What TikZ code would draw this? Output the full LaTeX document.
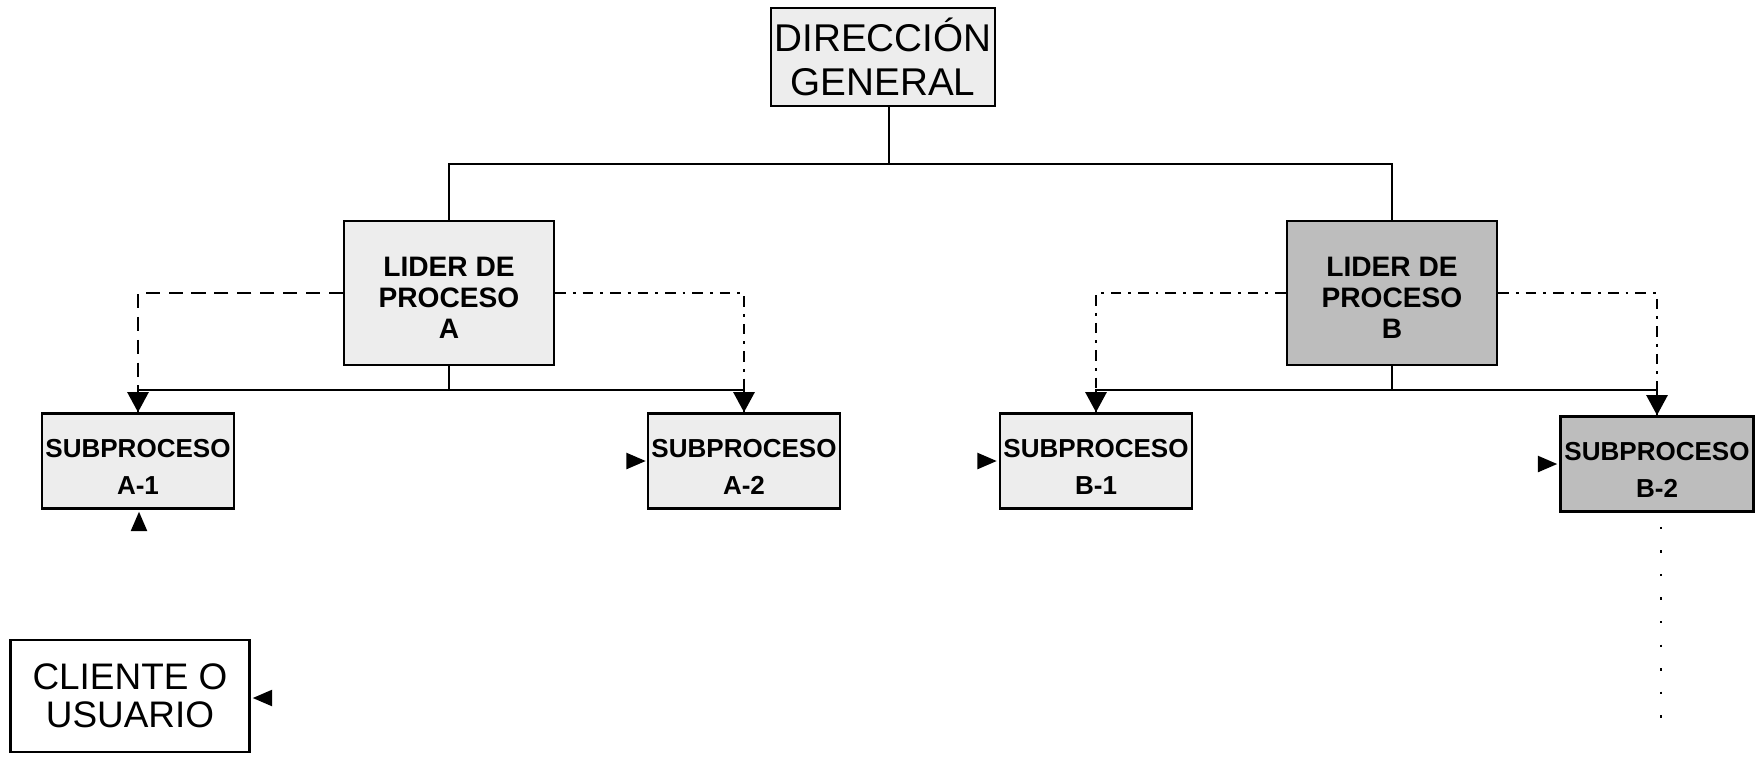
\documentclass[tikz,border=0pt]{standalone}
\usepackage{fontspec}
\setmainfont{Liberation Sans}
\usetikzlibrary{arrows.meta,calc}
\definecolor{boxlight}{gray}{0.93}
\definecolor{boxdark}{gray}{0.74}
% espacio extra sobre la primera linea del texto
\newcommand{\toplift}[1]{\rule{0pt}{#1}}

\begin{document}
\begin{tikzpicture}[x=0.01cm, y=-0.01cm,
  box/.style={rectangle, draw=black, line width=0.7pt, align=center, inner sep=1pt},
  lider/.style={box, minimum width=2.1cm, minimum height=1.44cm,
    font=\fontsize{8}{8.8}\selectfont\bfseries},
  subbox/.style={box, minimum width=1.9cm, minimum height=0.95cm,
    font=\fontsize{7.4}{10.5}\selectfont\bfseries},
  tree/.style={line width=0.6pt},
  link/.style={tree, -{Triangle[length=5.7pt, width=6pt]}},
  tip/.style={line width=0.5pt, -{Triangle[length=5.5pt, width=4.6pt]}},
  support/.style={line width=0.5pt, dash pattern=on 4pt off 2.5pt},
  supportdot/.style={line width=0.5pt, dash pattern=on 3pt off 2pt on 0.8pt off 2pt},
  tail/.style={line width=0.6pt, dash pattern=on 0.7pt off 6pt}
]
\fill[white] (0,0) rectangle (1763,756);
\useasboundingbox (0,0) rectangle (1763,756);

% jerarquia
\node[box, fill=boxlight, minimum width=2.24cm, minimum height=0.98cm,
  font=\fontsize{11}{12.5}\selectfont] (dg) at (883,57) {DIRECCIÓN\\GENERAL};
\node[lider, fill=boxlight] (liderA) at (449,293) {\toplift{8.2pt}LIDER DE\\PROCESO\\A};
\node[lider, fill=boxdark] (liderB) at (1392,293) {\toplift{8.2pt}LIDER DE\\PROCESO\\B};

\node[subbox, fill=boxlight] (subA1) at (138,461) {\toplift{8.7pt}SUBPROCESO\\A-1};
\node[subbox, fill=boxlight] (subA2) at (744,461) {\toplift{8.7pt}SUBPROCESO\\A-2};
\node[subbox, fill=boxlight] (subB1) at (1096,461) {\toplift{8.7pt}SUBPROCESO\\B-1};
\node[subbox, fill=boxdark, minimum width=1.93cm] (subB2) at (1657,464) {\toplift{8.7pt}SUBPROCESO\\B-2};

\node[box, fill=white, minimum width=2.39cm, minimum height=1.12cm,
  font=\fontsize{10.5}{10.7}\selectfont] (cliente) at (130,696) {CLIENTE O\\USUARIO};

% lineas de mando
\draw[tree] ([xshift=0.06cm]dg.south) -- ++(0,57) coordinate (jtop);
\draw[tree] (liderA.north) |- (jtop) -| (liderB.north);
\draw[tree] (liderA.south) -- ++(0,24) coordinate (jA);
\draw[tree] (liderB.south) -- ++(0,24) coordinate (jB);
\draw[link] (jA) -| (subA1.north);
\draw[link] (jA) -| (subA2.north);
\draw[link] (jB) -| (subB1.north);
\draw[link] (jB) -| (subB2.north);

% apoyo entre lider y subprocesos
\draw[support] (liderA.west) -| (subA1.north);
\draw[supportdot] (liderA.east) -| (subA2.north);
\draw[supportdot] (liderB.west) -| (subB1.north);
\draw[supportdot] (liderB.east) -| (subB2.north);

% entradas sueltas
\coordinate (inA1) at ($(subA1.south)+(1,19)$);
\coordinate (inA2) at ($(subA2.west)+(-19,0)$);
\coordinate (inB1) at ($(subB1.west)+(-20,0)$);
\coordinate (inB2) at ($(subB2.west)+(-20,0)$);
\coordinate (inCl) at ($(cliente.east)+(20,2)$);
\draw[tip] (inA1) -- ($(subA1.south)+(1,2)$);
\draw[tip] (inA2) -- ($(subA2.west)+(-1,0)$);
\draw[tip] (inB1) -- ($(subB1.west)+(-2,0)$);
\draw[tip] (inB2) -- ($(subB2.west)+(-2,0)$);
\draw[tip] (inCl) -- ($(cliente.east)+(2,2)$);

\coordinate (tailB2) at ($(subB2.south)+(4,209)$);
\draw[tail] ($(subB2.south)+(4,14)$) -- (tailB2);
\end{tikzpicture}
\end{document}
